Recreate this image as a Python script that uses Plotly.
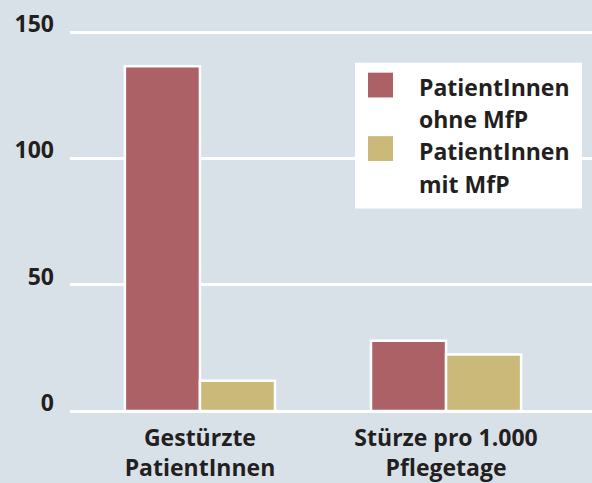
import plotly.graph_objects as go

categories = ["Gestürzte<br>PatientInnen", "Stürze pro 1.000<br>Pflegetage"]
series_names = ["PatientInnen<br>ohne MfP", "PatientInnen<br>mit MfP"]
ohne_mfp = [136.5, 27.8]
mit_mfp = [12.0, 22.4]
series_colors = ["#ac6167", "#cab979"]
y_ticks = [0, 50, 100, 150]

W, H = 592, 483
ML, MR, MT, MB = 70, 0, 29, 69
PW, PH = W - ML - MR, H - MT - MB
BG = "#d9e1e8"
TXT = "#231f20"
FONT = "Open Sans"
FS = 23


def px_x(x):
    return (x - ML) / PW


def px_y(y):
    return (H - MB - y) / PH


fig = go.Figure()
for name, vals, col in zip(series_names, [ohne_mfp, mit_mfp], series_colors):
    fig.add_trace(go.Bar(
        x=categories, y=vals, name=name,
        marker=dict(color=col, line=dict(color="white", width=2.5)),
        showlegend=False,
    ))

# manual legend (large swatches)
shapes = [dict(type="rect", xref="paper", yref="paper",
               x0=px_x(355), x1=px_x(582), y0=px_y(210), y1=px_y(63),
               fillcolor="white", line=dict(width=0), layer="above")]
annotations = []
sw_tops = [73, 137]
line_centers = [[86, 119], [151, 184]]
for i, (name, col) in enumerate(zip(series_names, series_colors)):
    t = sw_tops[i]
    shapes.append(dict(type="rect", xref="paper", yref="paper",
                       x0=px_x(368), x1=px_x(393), y0=px_y(t + 25), y1=px_y(t),
                       fillcolor=col, line=dict(width=0), layer="above"))
    for part, cy in zip(name.split("<br>"), line_centers[i]):
        annotations.append(dict(xref="paper", yref="paper", x=px_x(417), y=px_y(cy + 1),
                                xanchor="left", yanchor="middle", align="left",
                                text="<b>" + part + "</b>", showarrow=False,
                                font=dict(family=FONT, size=FS, color=TXT)))

fig.update_layout(
    width=W, height=H,
    margin=dict(l=ML, r=MR, t=MT, b=MB, pad=0),
    paper_bgcolor=BG, plot_bgcolor=BG,
    barmode="group", bargap=0.39, bargroupgap=0,
    font=dict(family=FONT, size=FS, color=TXT, weight="bold"),
    shapes=shapes, annotations=annotations,
    xaxis=dict(range=[-0.528, 1.593], showgrid=False, zeroline=False,
               showline=False, ticks="", ticklabelstandoff=11,
               tickfont=dict(family=FONT, size=FS, color=TXT, weight="bold")),
    yaxis=dict(range=[0, 151.2], tickvals=y_ticks, showgrid=True,
               gridcolor="white", gridwidth=2.5, zeroline=True,
               zerolinecolor="white", zerolinewidth=2.5,
               showline=False, ticks="", ticklabelstandoff=15,
               ticklabelshift=-8,
               tickfont=dict(family=FONT, size=FS, color=TXT, weight="bold")),
)

fig.write_html("out.html", config={"displayModeBar": False},
               post_script="document.body.style.margin='0';")
